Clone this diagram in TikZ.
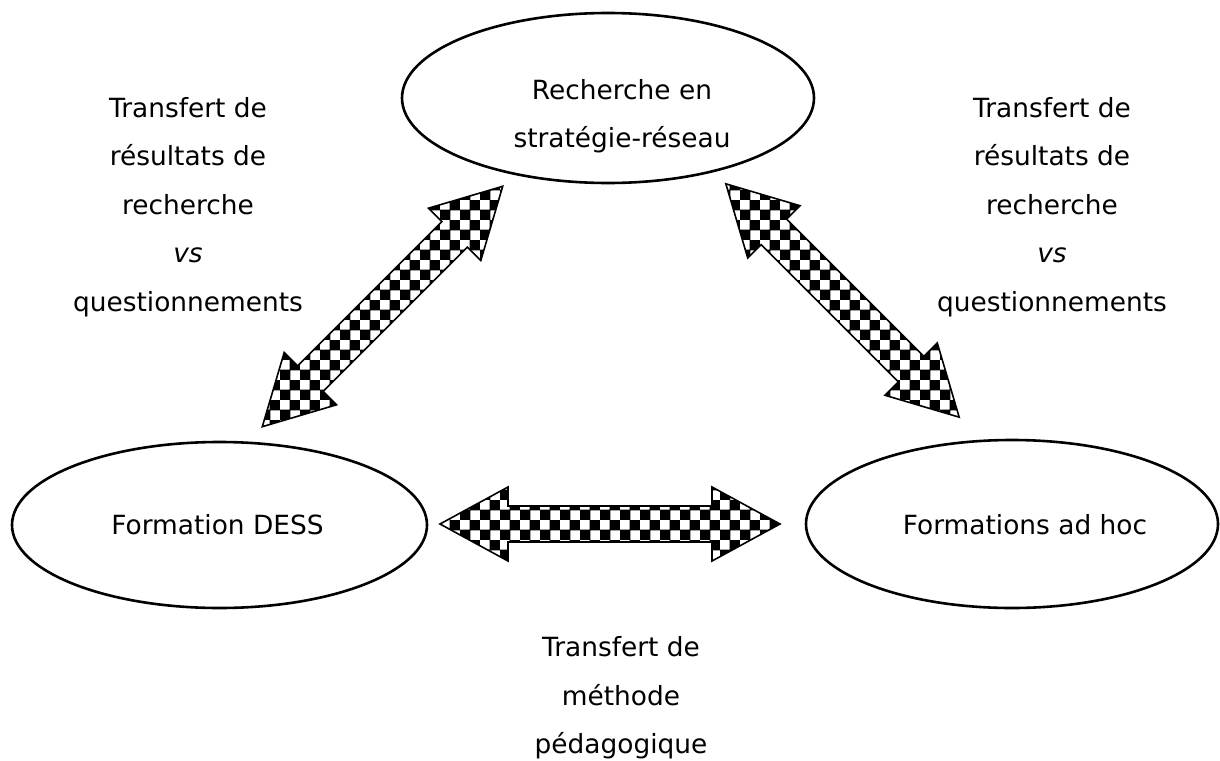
\documentclass[tikz,border=0pt]{standalone}
\usepackage{fontspec}
\setmainfont{DejaVu Sans}
\usetikzlibrary{shapes.geometric,patterns}
\pgfdeclarepatternformonly{bigchecker}{\pgfpointorigin}{\pgfqpoint{20pt}{20pt}}{\pgfqpoint{20pt}{20pt}}{%
  \pgfpathrectangle{\pgfpointorigin}{\pgfqpoint{10.8pt}{10.8pt}}%
  \pgfpathrectangle{\pgfqpoint{10pt}{10pt}}{\pgfqpoint{10.8pt}{10.8pt}}%
  \pgfusepath{fill}}
\tikzset{
  oval/.style={ellipse, draw, line width=2.6pt, inner sep=0pt},
  lbl/.style={inner sep=0pt, align=center, font=\fontsize{26.4}{48.4}\selectfont},
  arrowbody/.style={draw, line width=1.6pt, line join=miter, pattern=bigchecker, pattern color=black},
  pics/dblarrow/.style={code={
    \path[arrowbody] ({-#1/2},0) -- ({-#1/2+68},37) -- ({-#1/2+68},18) -- ({#1/2-68},18)
      -- ({#1/2-68},37) -- ({#1/2},0) -- ({#1/2-68},-37) -- ({#1/2-68},-18)
      -- ({-#1/2+68},-18) -- ({-#1/2+68},-37) -- cycle;}}
}
\begin{document}
\begin{tikzpicture}[x=1pt,y=-1pt]
\useasboundingbox[fill=white] (0,0) rectangle (1220,760);
% ellipses
\node[oval, minimum width=412pt, minimum height=170pt] (rech) at (608,98) {};
\node[oval, minimum width=415pt, minimum height=166pt] (dess) at (219.5,525) {};
\node[oval, minimum width=412pt, minimum height=168pt] (adhoc) at (1012,524) {};
% ellipse texts
\node[lbl] (rechtxt) at (622,116) {Recherche en\\strat\'egie-r\'eseau};
\node[lbl] (desstxt) at (217.5,525) {Formation DESS};
\node[lbl] (adhoctxt) at (1025,525) {Formations ad hoc};
% block arrows
\pic[rotate=45] at (382.5,306.5) {dblarrow=340};
\pic[rotate=-45] at (842.5,300.5) {dblarrow=330};
\pic at (610,524) {dblarrow=340};
% labels
\node[lbl] (lbll) at (188,207) {Transfert de\\r\'esultats de\\recherche\\\textit{vs}\\questionnements};
\node[lbl] (lblr) at (1052,207) {Transfert de\\r\'esultats de\\recherche\\\textit{vs}\\questionnements};
\node[lbl] (lblb) at (621,698) {Transfert de\\m\'ethode\\p\'edagogique};
\end{tikzpicture}
\end{document}
